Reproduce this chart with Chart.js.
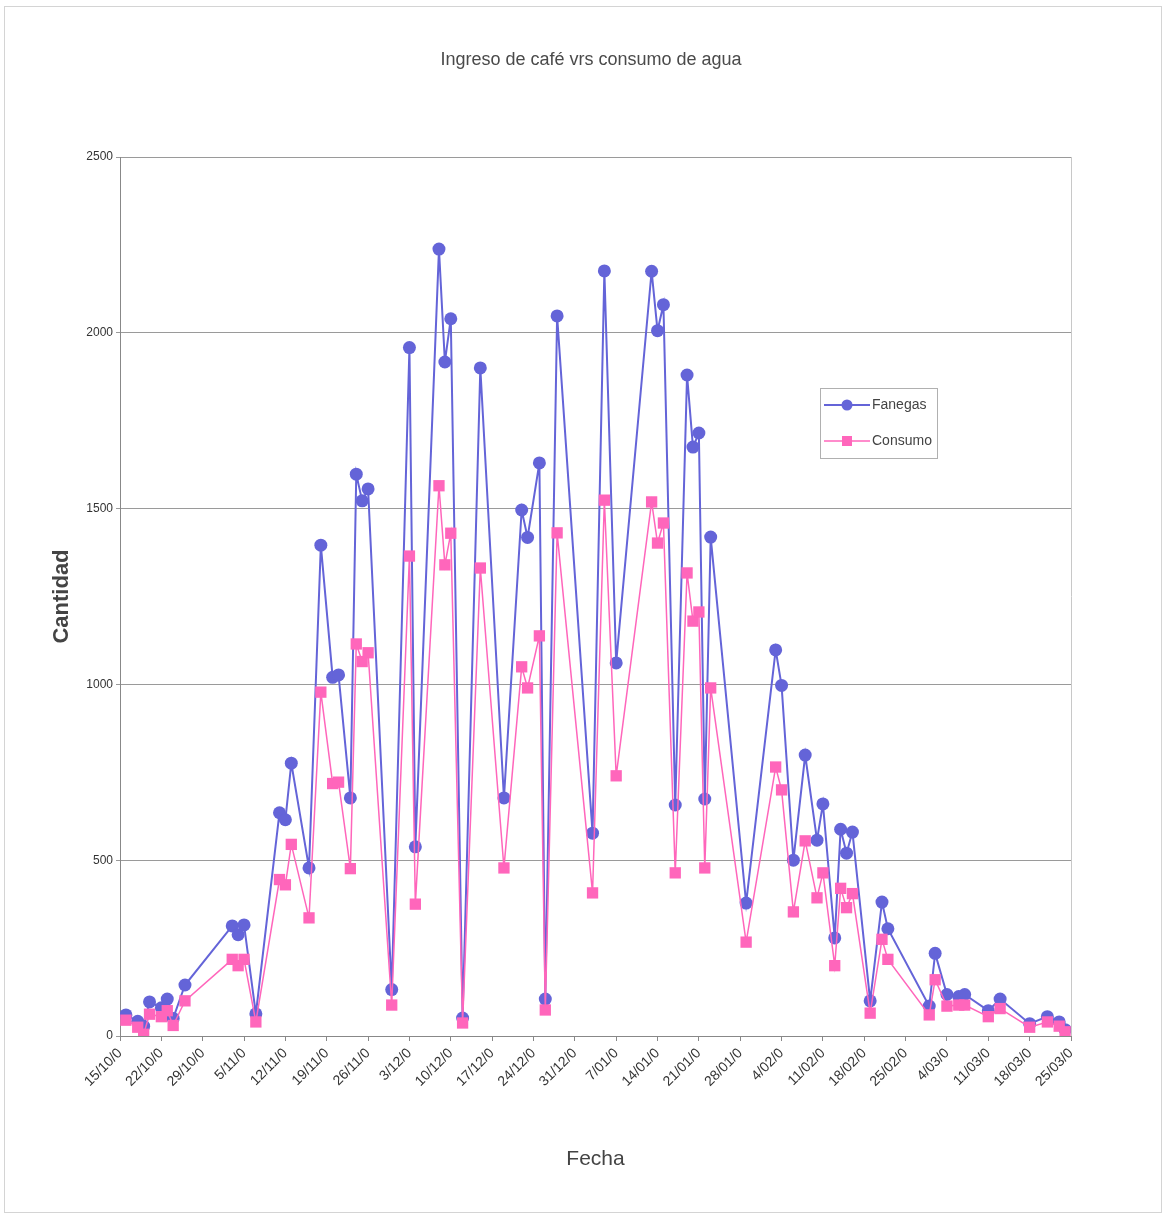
<!DOCTYPE html>
<html>
<head>
<meta charset="utf-8">
<title>Ingreso de café vrs consumo de agua</title>
<script src="https://cdn.jsdelivr.net/npm/chart.js@4.4.1/dist/chart.umd.min.js"></script>
<style>
html, body { margin: 0; padding: 0; background: #fff; }
#wrap { width: 1166px; height: 1218px; }
</style>
</head>
<body>
<div id="wrap"><canvas id="draw" width="1166" height="1218"></canvas></div>
<script>
// fechas de ingreso (dia/mes), campaña 2005-2006
const fechas = [
	"2005-10-16", "2005-10-18", "2005-10-19", "2005-10-20", "2005-10-22", "2005-10-23", "2005-10-24", "2005-10-26",
	"2005-11-03", "2005-11-04", "2005-11-05", "2005-11-07", "2005-11-11", "2005-11-12", "2005-11-13", "2005-11-16",
	"2005-11-18", "2005-11-20", "2005-11-21", "2005-11-23", "2005-11-24", "2005-11-25", "2005-11-26", "2005-11-30",
	"2005-12-03", "2005-12-04", "2005-12-08", "2005-12-09", "2005-12-10", "2005-12-12", "2005-12-15", "2005-12-19",
	"2005-12-22", "2005-12-23", "2005-12-25", "2005-12-26", "2005-12-28",
	"2006-01-03", "2006-01-05", "2006-01-07", "2006-01-13", "2006-01-14", "2006-01-15", "2006-01-17", "2006-01-19",
	"2006-01-20", "2006-01-21", "2006-01-22", "2006-01-23", "2006-01-29",
	"2006-02-03", "2006-02-04", "2006-02-06", "2006-02-08", "2006-02-10", "2006-02-11", "2006-02-13", "2006-02-14",
	"2006-02-15", "2006-02-16", "2006-02-19", "2006-02-21", "2006-02-22",
	"2006-03-01", "2006-03-02", "2006-03-04", "2006-03-06", "2006-03-07", "2006-03-11", "2006-03-13", "2006-03-18",
	"2006-03-21", "2006-03-23", "2006-03-24"
];

const fanegas = [
	60, 42, 28, 97, 80, 105, 50, 145,
	313, 288, 316, 63, 635, 615, 776, 478,
	1396, 1020, 1027, 677, 1598, 1522, 1556, 132,
	1958, 538, 2238, 1917, 2040, 51, 1900, 677,
	1496, 1418, 1630, 105, 2048,
	577, 2176, 1061, 2175, 2006, 2080, 657, 1880,
	1675, 1715, 674, 1419, 378,
	1098, 997, 500, 799, 557, 660, 279, 588,
	520, 580, 100, 381, 305,
	85, 235, 118, 112, 118, 72, 105, 35,
	55, 40, 18
];

const consumo = [
	45, 25, 5, 62, 55, 72, 30, 100,
	218, 200, 218, 40, 445, 430, 545, 336,
	978, 718, 722, 476, 1115, 1065, 1090, 88,
	1365, 375, 1565, 1340, 1430, 37, 1331, 478,
	1050, 990, 1138, 74, 1431,
	407, 1524, 740, 1519, 1402, 1459, 464, 1317,
	1180, 1206, 478, 990, 267,
	765, 700, 353, 555, 393, 464, 200, 420,
	365, 405, 65, 275, 218,
	60, 160, 85, 88, 88, 55, 78, 25,
	40, 28, 12
];

const inicio = "2005-10-15";
const fin = "2006-03-25";
const yTicks = [0, 500, 1000, 1500, 2000, 2500];
const titulo = "Ingreso de café vrs consumo de agua";

const FONT = "'Liberation Sans Narrow', 'Liberation Sans', Arial, sans-serif";
const AZUL = "#6464d8";
const ROSA = "#ff66bb";

function dia(f) {
	const p = f.split("-").map(Number);
	const q = inicio.split("-").map(Number);
	return (Date.UTC(p[0], p[1] - 1, p[2]) - Date.UTC(q[0], q[1] - 1, q[2])) / 86400000;
}

function etiqueta(value) {
	const q = inicio.split("-").map(Number);
	const d = new Date(Date.UTC(q[0], q[1] - 1, q[2]) + value * 86400000);
	const dd = d.getUTCDate();
	const mm = String(d.getUTCMonth() + 1).padStart(2, "0");
	return dd + "/" + mm + "/0";
}

// borde del grafico, titulo, borde del area y leyenda dentro del area
const marco = {
	id: "marco",
	beforeDraw(chart) {
		const ctx = chart.ctx;
		ctx.save();
		ctx.fillStyle = "#fff";
		ctx.fillRect(0, 0, chart.width, chart.height);
		ctx.strokeStyle = "#d4d4d4";
		ctx.lineWidth = 1;
		ctx.strokeRect(4.5, 6.5, chart.width - 9, chart.height - 12);
		ctx.fillStyle = "#4a4a4a";
		ctx.font = "18px " + FONT;
		ctx.textAlign = "center";
		ctx.textBaseline = "middle";
		ctx.fillText(titulo, 591, 60);
		ctx.restore();
	},
	afterDatasetsDraw(chart) {
		const ctx = chart.ctx;
		const a = chart.chartArea;
		ctx.save();
		ctx.strokeStyle = "#c8c8c8";
		ctx.lineWidth = 1;
		ctx.beginPath();
		ctx.moveTo(a.right + 0.5, a.top);
		ctx.lineTo(a.right + 0.5, a.bottom);
		ctx.stroke();

		// leyenda
		const bx = 820, by = 388, bw = 117, bh = 70;
		ctx.fillStyle = "#fff";
		ctx.fillRect(bx, by, bw, bh);
		ctx.strokeStyle = "#b0b0b0";
		ctx.strokeRect(bx + 0.5, by + 0.5, bw, bh);
		const items = chart.data.datasets;
		items.forEach((ds, i) => {
			const y = by + 17 + i * 36;
			ctx.strokeStyle = ds.borderColor;
			ctx.lineWidth = ds.borderWidth;
			ctx.beginPath();
			ctx.moveTo(bx + 4, y);
			ctx.lineTo(bx + 50, y);
			ctx.stroke();
			ctx.fillStyle = ds.backgroundColor;
			if (ds.pointStyle === "rect") {
				ctx.fillRect(bx + 22, y - 5, 10, 10);
			} else {
				ctx.beginPath();
				ctx.arc(bx + 27, y, 5.5, 0, Math.PI * 2);
				ctx.fill();
			}
			ctx.fillStyle = "#444";
			ctx.font = "14px " + FONT;
			ctx.textBaseline = "middle";
			ctx.fillText(ds.label, bx + 52, y);
		});
		ctx.restore();
	}
};

const config = {
	type: "line",
	data: {
		datasets: [
			{
				label: "Fanegas",
				data: fechas.map((f, i) => ({ x: dia(f), y: fanegas[i] })),
				borderColor: AZUL,
				backgroundColor: AZUL,
				borderWidth: 2,
				pointStyle: "circle",
				pointRadius: 6.5,
				pointBorderWidth: 0,
				tension: 0,
				order: 1,
			},
			{
				label: "Consumo",
				data: fechas.map((f, i) => ({ x: dia(f), y: consumo[i] })),
				borderColor: ROSA,
				backgroundColor: ROSA,
				borderWidth: 1.5,
				pointStyle: "rect",
				pointRadius: 8,
				pointBorderWidth: 0,
				tension: 0,
				order: 0,
			},
		],
	},
	options: {
		responsive: false,
		animation: false,
		layout: {
			padding: { left: 45, right: 95, top: 157, bottom: 42 },
		},
		plugins: {
			legend: { display: false },
			tooltip: { enabled: false },
			title: { display: false },
		},
		scales: {
			x: {
				type: "linear",
				min: dia(inicio),
				max: dia(fin),
				afterFit: (scale) => { scale.height = 140; },
				ticks: {
					stepSize: 7,
					autoSkip: false,
					minRotation: 45,
					maxRotation: 45,
					color: "#333",
					font: { family: FONT, size: 14 },
					padding: 4,
					callback: (value) => etiqueta(value),
				},
				grid: { drawOnChartArea: false, tickLength: 5, color: "#888" },
				border: { color: "#888" },
				title: {
					display: true,
					text: "Fecha",
					color: "#444",
					font: { family: FONT, size: 21 },
				},
			},
			y: {
				min: yTicks[0],
				max: yTicks[yTicks.length - 1],
				afterFit: (scale) => { scale.width = 75; },
				afterBuildTicks: (scale) => { scale.ticks = yTicks.map((v) => ({ value: v })); },
				ticks: {
					color: "#333",
					font: { family: FONT, size: 12 },
					padding: 3,
					callback: (value) => String(value),
				},
				grid: { color: "#9a9a9a", tickLength: 4 },
				border: { color: "#888" },
				title: {
					display: true,
					text: "Cantidad",
					color: "#444",
					font: { family: FONT, size: 22, weight: "bold" },
				},
			},
		},
	},
	plugins: [marco],
};

let myChart = new Chart(document.getElementById("draw").getContext("2d"), config);
</script>
</body>
</html>
